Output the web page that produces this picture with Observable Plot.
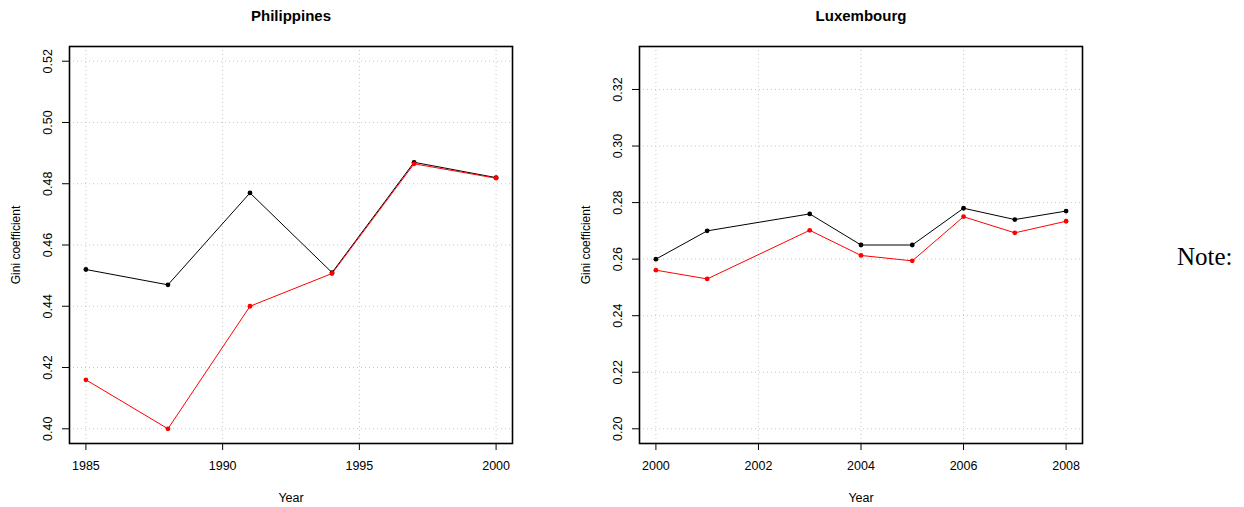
<!DOCTYPE html>
<html>
<head>
<meta charset="utf-8">
<script src="https://cdn.jsdelivr.net/npm/d3@7"></script>
<script src="https://cdn.jsdelivr.net/npm/@observablehq/plot@0.6"></script>
<style>
  html, body { margin: 0; padding: 0; background: #fff; }
  #wrap { position: relative; width: 1244px; height: 507px; overflow: hidden; }
  .panel { position: absolute; top: 0; }
  #note { position: absolute; left: 1177px; top: 244px; font-family: "Liberation Serif", "Times New Roman", serif; font-size: 25px; color: #000; line-height: 1; }
</style>
</head>
<body>
<div id="wrap">
  <div class="panel" id="p1" style="left:0px"></div>
  <div class="panel" id="p2" style="left:570px"></div>
  <div id="note">Note:</div>
</div>
<script>
// ---- Data ----
const phTitle = "Philippines";
const phYears = [1985, 1988, 1991, 1994, 1997, 2000];
const phBlack = [0.452, 0.447, 0.477, 0.451, 0.487, 0.482];
const phRed   = [0.416, 0.400, 0.440, 0.4507, 0.4865, 0.4818];
const phXTicks = [1985, 1990, 1995, 2000];
const phYTicks = [0.40, 0.42, 0.44, 0.46, 0.48, 0.50, 0.52];

const luTitle = "Luxembourg";
const luYears = [2000, 2001, 2003, 2004, 2005, 2006, 2007, 2008];
const luBlack = [0.260, 0.270, 0.276, 0.265, 0.265, 0.278, 0.274, 0.277];
const luRed   = [0.2561, 0.2530, 0.2702, 0.2613, 0.2594, 0.2750, 0.2693, 0.2734];
const luXTicks = [2000, 2002, 2004, 2006, 2008];
const luYTicks = [0.20, 0.22, 0.24, 0.26, 0.28, 0.30, 0.32];

const xLabel = "Year";
const yLabel = "Gini coefficient";

function panel(title, years, black, red, xTicks, yTicks, xDomain, yDomain) {
  const rows = [];
  years.forEach((yr, i) => rows.push({year: yr, gini: black[i], series: "black"}));
  years.forEach((yr, i) => rows.push({year: yr, gini: red[i], series: "red"}));
  const fmt = d3.format(".2f");
  return Plot.plot({
    width: 570,
    height: 507,
    marginTop: 46,
    marginBottom: 64,
    marginLeft: 69,
    marginRight: 58,
    style: {fontFamily: "'Liberation Sans', Arial, Helvetica, sans-serif", fontSize: "12.5px", color: "#000", background: "transparent", overflow: "visible"},
    x: {domain: xDomain},
    y: {domain: yDomain},
    color: {domain: ["black", "red"], range: ["#000000", "#ff0000"]},
    marks: [
      Plot.gridX(xTicks, {stroke: "#c8c8c8", strokeOpacity: 1, strokeDasharray: "1,3", strokeWidth: 1}),
      Plot.gridY(yTicks, {stroke: "#c8c8c8", strokeOpacity: 1, strokeDasharray: "1,3", strokeWidth: 1}),
      Plot.axisX(xTicks, {tickSize: 7, tickPadding: 11, tickFormat: d => String(d), label: null, stroke: "#000", strokeWidth: 1}),
      Plot.axisY(yTicks, {tickSize: 7, tickFormat: () => "", label: null, stroke: "#000", strokeWidth: 1}),
      Plot.text(yTicks, {y: d => d, text: d => fmt(d), frameAnchor: "left", dx: -22, rotate: -90, textAnchor: "middle", lineAnchor: "middle", fontSize: 12.5}),
      Plot.text([yLabel], {text: d => d, frameAnchor: "left", dx: -53, rotate: -90, textAnchor: "middle", lineAnchor: "middle", fontSize: 12}),
      Plot.text([xLabel], {text: d => d, frameAnchor: "bottom", dy: 54.5, textAnchor: "middle", lineAnchor: "middle", fontSize: 12.5}),
      Plot.text([title], {text: d => d, frameAnchor: "top", dy: -30, textAnchor: "middle", lineAnchor: "middle", fontSize: 15, fontWeight: "bold"}),
      Plot.line(rows, {x: "year", y: "gini", z: "series", stroke: "series", strokeWidth: 1}),
      Plot.dot(rows, {x: "year", y: "gini", fill: "series", r: 2.4, stroke: "none"}),
      Plot.frame({stroke: "#000", strokeWidth: 1.6})
    ]
  });
}

document.getElementById("p1").appendChild(
  panel(phTitle, phYears, phBlack, phRed, phXTicks, phYTicks, [1984.4, 2000.6], [0.3952, 0.5248])
);
document.getElementById("p2").appendChild(
  panel(luTitle, luYears, luBlack, luRed, luXTicks, luYTicks, [1999.68, 2008.32], [0.1948, 0.3352])
);
</script>
</body>
</html>
